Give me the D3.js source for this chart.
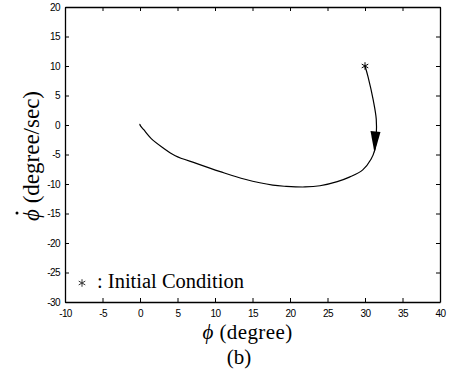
<!DOCTYPE html>
<html>
<head>
<meta charset="utf-8">
<script src="https://cdn.jsdelivr.net/npm/d3@7"></script>
<style>
  body { margin: 0; background: #fff; }
  svg { display: block; }
</style>
</head>
<body>
<svg id="chart"></svg>
<script>
// phase trajectory, phi (degree) vs phi-dot (degree/sec)
var phi = [30, 30.4, 31.1, 31.5, 31.5, 31.3, 30.8, 29.7, 28, 26.3, 24, 22, 19.5, 17.7, 14, 10.7, 7.5, 4.7, 3, 1.5, 0.5, 0, 0];
var phiDot = [10, 8.2, 4.2, 1, -2, -4.2, -5.8, -7.6, -8.8, -9.6, -10.3, -10.5, -10.4, -10.2, -9.2, -7.9, -6.5, -5.2, -3.8, -2.3, -0.8, 0, 0.2];
var initial = { x: 30, y: 10 };
var arrowAt = { x: 31.4, y: -2.9 };
var xTicks = [-10, -5, 0, 5, 10, 15, 20, 25, 30, 35, 40];
var yTicks = [-30, -25, -20, -15, -10, -5, 0, 5, 10, 15, 20];

var width = 452, height = 373;
var margin = { top: 7, right: 12, bottom: 71, left: 65 };
var innerW = width - margin.left - margin.right;
var innerH = height - margin.top - margin.bottom;

var svg = d3.select("#chart").attr("width", width).attr("height", height);

var x = d3.scaleLinear().domain([-10, 40]).range([0, innerW]);
var y = d3.scaleLinear().domain([-30, 20]).range([innerH, 0]);

var g = svg.append("g")
  .attr("transform", "translate(" + margin.left + "," + margin.top + ")");

var tickFont = "'Liberation Sans', Arial, sans-serif";
var serif = "'Liberation Serif', 'Times New Roman', serif";
var plain = function (d) { return String(d); };

// bottom axis with labels
var xAxis = g.append("g")
  .attr("transform", "translate(0," + innerH + ")")
  .call(d3.axisBottom(x).tickValues(xTicks).tickFormat(plain).tickSize(-4).tickSizeOuter(0).tickPadding(8));
// left axis with labels
var yAxis = g.append("g")
  .call(d3.axisLeft(y).tickValues(yTicks).tickFormat(plain).tickSize(-4).tickSizeOuter(0).tickPadding(5));
// top and right: ticks only
var topAxis = g.append("g")
  .call(d3.axisTop(x).tickValues(xTicks).tickSize(-4).tickSizeOuter(0).tickFormat(""));
var rightAxis = g.append("g")
  .attr("transform", "translate(" + innerW + ",0)")
  .call(d3.axisRight(y).tickValues(yTicks).tickSize(-4).tickSizeOuter(0).tickFormat(""));

[xAxis, yAxis, topAxis, rightAxis].forEach(function (a) {
  a.selectAll("path").attr("stroke", "#000").attr("stroke-width", 1.3);
  a.selectAll("line").attr("stroke", "#000");
  a.selectAll("text")
    .attr("fill", "#000")
    .style("font-family", tickFont)
    .style("font-size", "10px")
    .style("letter-spacing", "-0.6px");
});

// trajectory
var pts = phi.map(function (d, i) { return [d, phiDot[i]]; });
var line = d3.line()
  .x(function (d) { return x(d[0]); })
  .y(function (d) { return y(d[1]); })
  .curve(d3.curveCatmullRom.alpha(0.5));

g.append("path")
  .datum(pts)
  .attr("d", line)
  .attr("fill", "none")
  .attr("stroke", "#000")
  .attr("stroke-width", 1.2);

// arrow head pointing down the trajectory
var ax = x(arrowAt.x), ay = y(arrowAt.y);
g.append("path")
  .attr("d", "M" + (ax - 5) + "," + (ay - 11) + "L" + (ax + 5) + "," + (ay - 10) + "L" + (ax - 1) + "," + (ay + 11) + "Z")
  .attr("fill", "#000");

// initial condition marker
var star = d3.symbol(d3.symbolAsterisk, 40);
g.append("path")
  .attr("d", star)
  .attr("transform", "translate(" + x(initial.x) + "," + y(initial.y) + ")")
  .attr("fill", "none")
  .attr("stroke", "#000")
  .attr("stroke-width", 1);

// legend
svg.append("path")
  .attr("d", star)
  .attr("transform", "translate(82,283)")
  .attr("fill", "none")
  .attr("stroke", "#333")
  .attr("stroke-width", 1);
svg.append("text")
  .attr("x", 97)
  .attr("y", 288)
  .style("font-family", serif)
  .style("font-size", "20.5px")
  .text(": Initial Condition");

// axis titles
svg.append("text")
  .attr("x", margin.left + innerW / 2 - 5)
  .attr("y", 339)
  .attr("text-anchor", "middle")
  .style("font-family", serif)
  .style("font-size", "21px")
  .style("letter-spacing", "0.4px")
  .html("<tspan font-style='italic'>\u03d5</tspan> (degree)");

svg.append("text")
  .attr("x", 239)
  .attr("y", 364)
  .attr("text-anchor", "middle")
  .style("font-family", serif)
  .style("font-size", "21px")
  .text("(b)");

var yTitle = svg.append("g")
  .attr("transform", "translate(39,156) rotate(-90)");
yTitle.append("text")
  .attr("text-anchor", "middle")
  .style("font-family", serif)
  .style("font-size", "23px")
  .html("<tspan font-style='italic'>\u03d5</tspan> (degree/sec)");
// dot over phi
yTitle.append("circle")
  .attr("cx", -57)
  .attr("cy", -22)
  .attr("r", 1.5)
  .attr("fill", "#000");
</script>
</body>
</html>
